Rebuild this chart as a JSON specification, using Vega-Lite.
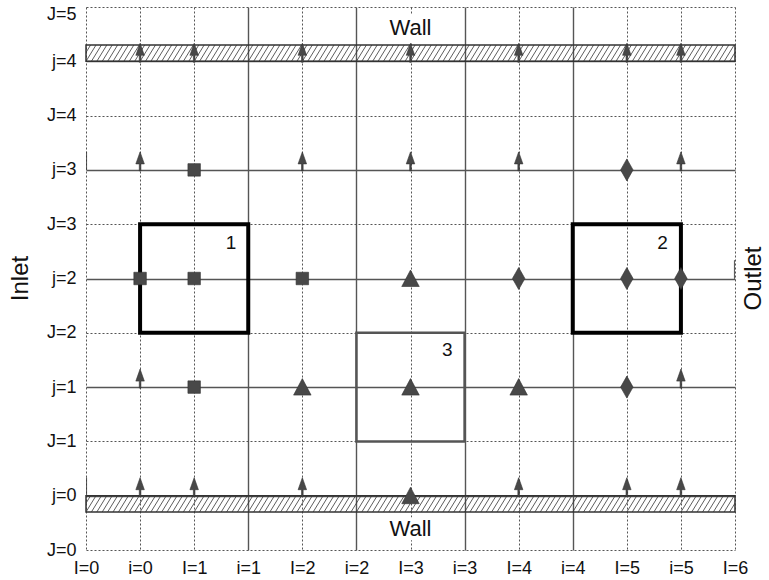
{
  "$schema": "https://vega.github.io/schema/vega-lite/v6.json",
  "width": 649,
  "height": 543,
  "autosize": "none",
  "padding": {"left": 86, "top": 7, "right": 34, "bottom": 30},
  "background": "white",
  "config": {"view": {"stroke": null}, "font": "Liberation Sans", "text": {"font": "Liberation Sans"}},
  "datasets": {
    "walls": [{"wall": "top", "lo": 4, "hi": 4.15}, {"wall": "bottom", "lo": -0.15, "hi": 0}],
    "backs": [{"x": 2.6, "x2": 3.42, "y": 4.17, "y2": 4.43}, {"x": 2.6, "x2": 3.42, "y": -0.2, "y2": -0.41}],
    "hatch": [{"h":-0.15},{"h":-0.1},{"h":-0.05},{"h":0},{"h":0.05},{"h":0.1},{"h":0.15},{"h":0.2},{"h":0.25},{"h":0.3},{"h":0.35},{"h":0.4},{"h":0.45},{"h":0.5},{"h":0.55},{"h":0.6},{"h":0.65},{"h":0.7},{"h":0.75},{"h":0.8},{"h":0.85},{"h":0.9},{"h":0.95},{"h":1},{"h":1.05},{"h":1.1},{"h":1.15},{"h":1.2},{"h":1.25},{"h":1.3},{"h":1.35},{"h":1.4},{"h":1.45},{"h":1.5},{"h":1.55},{"h":1.6},{"h":1.65},{"h":1.7},{"h":1.75},{"h":1.8},{"h":1.85},{"h":1.9},{"h":1.95},{"h":2},{"h":2.05},{"h":2.1},{"h":2.15},{"h":2.2},{"h":2.25},{"h":2.3},{"h":2.35},{"h":2.4},{"h":2.45},{"h":2.5},{"h":2.55},{"h":2.6},{"h":2.65},{"h":2.7},{"h":2.75},{"h":2.8},{"h":2.85},{"h":2.9},{"h":2.95},{"h":3},{"h":3.05},{"h":3.1},{"h":3.15},{"h":3.2},{"h":3.25},{"h":3.3},{"h":3.35},{"h":3.4},{"h":3.45},{"h":3.5},{"h":3.55},{"h":3.6},{"h":3.65},{"h":3.7},{"h":3.75},{"h":3.8},{"h":3.85},{"h":3.9},{"h":3.95},{"h":4},{"h":4.05},{"h":4.1},{"h":4.15},{"h":4.2},{"h":4.25},{"h":4.3},{"h":4.35},{"h":4.4},{"h":4.45},{"h":4.5},{"h":4.55},{"h":4.6},{"h":4.65},{"h":4.7},{"h":4.75},{"h":4.8},{"h":4.85},{"h":4.9},{"h":4.95},{"h":5},{"h":5.05},{"h":5.1},{"h":5.15},{"h":5.2},{"h":5.25},{"h":5.3},{"h":5.35},{"h":5.4},{"h":5.45},{"h":5.5},{"h":5.55},{"h":5.6},{"h":5.65},{"h":5.7},{"h":5.75},{"h":5.8},{"h":5.85},{"h":5.9},{"h":5.95},{"h":6}],
    "boxes": [
      {"id": "1", "x": 0.5, "x2": 1.5, "y": 1.5, "y2": 2.5},
      {"id": "2", "x": 4.5, "x2": 5.5, "y": 1.5, "y2": 2.5},
      {"id": "3", "x": 2.5, "x2": 3.5, "y": 0.5, "y2": 1.5}
    ],
    "points": [
      {"x": 0.5, "y": 2, "s": "square"}, {"x": 1, "y": 2, "s": "square"}, {"x": 2, "y": 2, "s": "square"},
      {"x": 1, "y": 3, "s": "square"}, {"x": 1, "y": 1, "s": "square"},
      {"x": 3, "y": 2, "s": "triangle"}, {"x": 2, "y": 1, "s": "triangle"}, {"x": 3, "y": 1, "s": "triangle"},
      {"x": 4, "y": 1, "s": "triangle"}, {"x": 3, "y": 0, "s": "triangle"},
      {"x": 5, "y": 3, "s": "diamond"}, {"x": 4, "y": 2, "s": "diamond"}, {"x": 5, "y": 2, "s": "diamond"},
      {"x": 5.5, "y": 2, "s": "diamond"}, {"x": 5, "y": 1, "s": "diamond"},
      {"x": 0.5, "y": 4, "s": "arrow"}, {"x": 1, "y": 4, "s": "arrow"}, {"x": 2, "y": 4, "s": "arrow"},
      {"x": 3, "y": 4, "s": "arrow"}, {"x": 4, "y": 4, "s": "arrow"}, {"x": 5, "y": 4, "s": "arrow"},
      {"x": 5.5, "y": 4, "s": "arrow"},
      {"x": 0.5, "y": 3, "s": "arrow"}, {"x": 2, "y": 3, "s": "arrow"}, {"x": 3, "y": 3, "s": "arrow"},
      {"x": 4, "y": 3, "s": "arrow"}, {"x": 5.5, "y": 3, "s": "arrow"},
      {"x": 0.5, "y": 1, "s": "arrow"}, {"x": 5.5, "y": 1, "s": "arrow"},
      {"x": 0.5, "y": 0, "s": "arrow"}, {"x": 1, "y": 0, "s": "arrow"}, {"x": 2, "y": 0, "s": "arrow"},
      {"x": 4, "y": 0, "s": "arrow"}, {"x": 5, "y": 0, "s": "arrow"}, {"x": 5.5, "y": 0, "s": "arrow"},
      {"x": 0, "y": 3, "s": "stub"}, {"x": 0, "y": 0, "s": "stub"}, {"x": 6, "y": 2, "s": "stub"}
    ],
    "bigtext": [
      {"t": "Wall", "x": 3, "y": 4.31},
      {"t": "Wall", "x": 3, "y": -0.31}
    ],
    "sidetext": [
      {"t": "Inlet", "x": -0.6, "y": 2},
      {"t": "Outlet", "x": 6.18, "y": 2}
    ],
    "numbers": [
      {"t": "1", "x": 1.34, "y": 2.33},
      {"t": "2", "x": 5.33, "y": 2.33},
      {"t": "3", "x": 3.34, "y": 1.34}
    ]
  },
  "layer": [
    {
      "data": {"name": "boxes"},
      "mark": {"type": "rect", "opacity": 0},
      "encoding": {
        "x": {
          "field": "x", "type": "quantitative",
          "scale": {"domain": [0, 6], "nice": false, "zero": false},
          "axis": {
            "title": null, "domain": false, "ticks": false,
            "values": [0, 0.5, 1, 1.5, 2, 2.5, 3, 3.5, 4, 4.5, 5, 5.5, 6],
            "labelExpr": "datum.value % 1 == 0 ? 'I=' + datum.value : 'i=' + floor(datum.value)",
            "labelFont": "Liberation Sans", "labelFontSize": 18, "labelColor": "#111",
            "labelPadding": 9, "labelFlush": false, "labelOverlap": false,
            "grid": true, "gridColor": "#555",
            "gridDash": {"condition": {"test": "datum.value >= 1.5 && datum.value <= 4.5 && datum.value % 1 != 0", "value": []}, "value": [2, 2]},
            "gridWidth": {"condition": {"test": "datum.value >= 1.5 && datum.value <= 4.5 && datum.value % 1 != 0", "value": 1.4}, "value": 1}
          }
        },
        "x2": {"field": "x2"},
        "y": {
          "field": "y", "type": "quantitative",
          "scale": {"domain": [-0.5, 4.5], "nice": false, "zero": false},
          "axis": {
            "title": null, "domain": false, "ticks": false,
            "values": [-0.5, 0, 0.5, 1, 1.5, 2, 2.5, 3, 3.5, 4, 4.5],
            "labelExpr": "datum.value % 1 == 0 ? 'j=' + datum.value : 'J=' + (datum.value + 0.5)",
            "labelFont": "Liberation Sans", "labelFontSize": 18, "labelColor": "#111",
            "labelPadding": 10, "labelFlush": false, "labelOverlap": false,
            "labelOffset": {"condition": {"test": "datum.value == 4.5", "value": 7}, "value": 0},
            "grid": true, "gridColor": "#555",
            "gridDash": {"condition": {"test": "datum.value % 1 == 0", "value": []}, "value": [2, 2]},
            "gridWidth": {"condition": {"test": "datum.value % 1 == 0", "value": 1.4}, "value": 1}
          }
        },
        "y2": {"field": "y2"}
      }
    },
    {
      "data": {"name": "backs"},
      "mark": {"type": "rect", "fill": "white", "stroke": null},
      "encoding": {
        "x": {"field": "x", "type": "quantitative"},
        "x2": {"field": "x2"},
        "y": {"field": "y", "type": "quantitative"},
        "y2": {"field": "y2"}
      }
    },
    {
      "data": {"name": "hatch"},
      "mark": {"type": "rule", "stroke": "#333", "strokeWidth": 0.8, "x2Offset": 10, "clip": true},
      "encoding": {
        "x": {"field": "h", "type": "quantitative"},
        "x2": {"field": "h"},
        "y": {"datum": 4},
        "y2": {"datum": 4.15}
      }
    },
    {
      "data": {"name": "hatch"},
      "mark": {"type": "rule", "stroke": "#333", "strokeWidth": 0.8, "x2Offset": 10, "clip": true},
      "encoding": {
        "x": {"field": "h", "type": "quantitative"},
        "x2": {"field": "h"},
        "y": {"datum": -0.15},
        "y2": {"datum": 0}
      }
    },
    {
      "data": {"name": "walls"},
      "mark": {"type": "rect", "fill": null, "stroke": "#333", "strokeWidth": 1.5},
      "encoding": {
        "x": {"datum": 0},
        "x2": {"datum": 6},
        "y": {"field": "lo", "type": "quantitative"},
        "y2": {"field": "hi"}
      }
    },
    {
      "data": {"name": "boxes"},
      "transform": [{"filter": "datum.id != '3'"}],
      "mark": {"type": "rect", "fill": null, "stroke": "#000", "strokeWidth": 4},
      "encoding": {
        "x": {"field": "x", "type": "quantitative"},
        "x2": {"field": "x2"},
        "y": {"field": "y", "type": "quantitative"},
        "y2": {"field": "y2"}
      }
    },
    {
      "data": {"name": "boxes"},
      "transform": [{"filter": "datum.id == '3'"}],
      "mark": {"type": "rect", "fill": null, "stroke": "#555", "strokeWidth": 2.5},
      "encoding": {
        "x": {"field": "x", "type": "quantitative"},
        "x2": {"field": "x2"},
        "y": {"field": "y", "type": "quantitative"},
        "y2": {"field": "y2"}
      }
    },
    {
      "data": {"name": "points"},
      "mark": {"type": "point", "filled": true, "fill": "#484848", "stroke": "#333", "strokeWidth": 0.6, "opacity": 1, "size": 100, "clip": true},
      "encoding": {
        "x": {"field": "x", "type": "quantitative"},
        "y": {"field": "y", "type": "quantitative"},
        "shape": {
          "field": "s", "type": "nominal", "legend": null,
          "scale": {
            "domain": ["square", "triangle", "diamond", "arrow", "stub"],
            "range": ["M-1.25,-1.25L1.25,-1.25L1.25,1.25L-1.25,1.25Z", "M0,-1.7L1.75,1.6L-1.75,1.6Z", "M0,-2.2L1.25,0L0,2.2L-1.25,0Z", "M0,-3.6L0.85,-1.2L0.16,-1.2L0.16,0.2L-0.16,0.2L-0.16,-1.2L-0.85,-1.2Z", "M-0.12,-3.6L0.12,-3.6L0.12,0L-0.12,0Z"]
          }
        }
      }
    },
    {
      "data": {"name": "bigtext"},
      "mark": {"type": "text", "fontSize": 22, "font": "Liberation Sans", "color": "#111", "align": "center", "baseline": "middle"},
      "encoding": {
        "x": {"field": "x", "type": "quantitative"},
        "y": {"field": "y", "type": "quantitative"},
        "text": {"field": "t"}
      }
    },
    {
      "data": {"name": "sidetext"},
      "mark": {"type": "text", "fontSize": 24, "font": "Liberation Sans", "color": "#111", "align": "center", "baseline": "middle", "angle": 270},
      "encoding": {
        "x": {"field": "x", "type": "quantitative"},
        "y": {"field": "y", "type": "quantitative"},
        "text": {"field": "t"}
      }
    },
    {
      "data": {"name": "numbers"},
      "mark": {"type": "text", "fontSize": 19, "font": "Liberation Sans", "color": "#111", "align": "center", "baseline": "middle"},
      "encoding": {
        "x": {"field": "x", "type": "quantitative"},
        "y": {"field": "y", "type": "quantitative"},
        "text": {"field": "t"}
      }
    }
  ]
}
